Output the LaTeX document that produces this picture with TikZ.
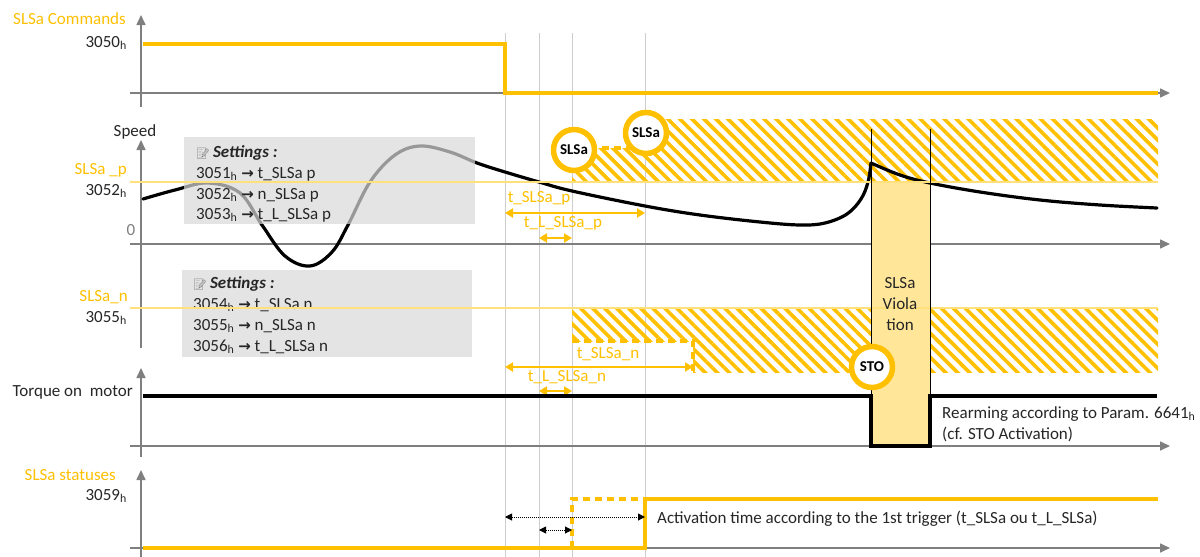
\documentclass[tikz,border=0pt]{standalone}
\usepackage{fontspec}
\setmainfont{Carlito}
\newfontfamily\dejavu{DejaVu Sans}
\newfontfamily\emojifont{Noto Emoji}
\usetikzlibrary{arrows.meta,patterns.meta}
\definecolor{slsa}{HTML}{FFC000}
\definecolor{thrcol}{HTML}{FFE07A}
\definecolor{viol}{HTML}{FFE699}
\definecolor{axisgray}{HTML}{7F7F7F}
\definecolor{txt}{HTML}{262626}
\definecolor{boxgray}{RGB}{217,217,217}
\definecolor{guidegray}{RGB}{205,205,205}
\newcommand\hx{\textsubscript{h}}
\newcommand\setarrow{{\dejavu\bfseries\fontsize{15}{15}\selectfont →}}
\begin{document}
\begin{tikzpicture}[x=1pt,y=-1pt,
  font=\fontsize{17}{21}\selectfont, text=txt,
  axis/.style={draw=axisgray, line width=1.6pt, -{Triangle[length=10pt,width=9pt]}},
  guide/.style={draw=guidegray, line width=1pt},
  sig/.style={draw=slsa, line width=3.3pt},
  sigdash/.style={draw=slsa, line width=3.3pt, dash pattern=on 7pt off 5pt},
  thr/.style={draw=thrcol, line width=1.6pt},
  hatch/.style={pattern={Lines[angle=-45,distance=8.5pt,line width=3.6pt]}, pattern color=slsa},
  dimarrow/.style={draw=slsa, line width=2.4pt, {Triangle[length=8pt,width=9pt]}-{Triangle[length=8pt,width=9pt]}},
  dotarrow/.style={draw=black, line width=1pt, dash pattern=on 1pt off 1pt, {Triangle[length=7pt,width=7pt]}-{Triangle[length=7pt,width=7pt]}},
  dimlab/.style={text=slsa, inner sep=0pt, anchor=mid},
  orlab/.style={text=slsa, inner sep=0pt, anchor=mid east},
  vallab/.style={inner sep=0pt, anchor=mid east},
  plain/.style={inner sep=0pt, anchor=mid west},
  setline/.style={inner sep=0pt, anchor=base west},
  badge/.style={circle, draw=slsa, line width=5.5pt, fill=white, minimum size=41pt, inner sep=0pt, text=black, font=\bfseries\fontsize{15}{15}\selectfont},
  setbox/.style={fill=boxgray, fill opacity=0.7},
  curve/.style={draw=black, line width=3.2pt, line cap=round},
  torque/.style={draw=black, line width=3.8pt}
]
\useasboundingbox (0,0) rectangle (1200,557);

% guide lines
\foreach \gx/\gn in {505/ga,539/gb,572/gc,645/gd}{
  \coordinate (\gn top) at (\gx,33);
  \coordinate (\gn bot) at (\gx,557);
  \draw[guide] (\gn top) -- (\gn bot);
}

% ---------- Commands panel ----------
\coordinate (c0) at (141,107);
\coordinate (c1) at (141,15);
\coordinate (ch0) at (130,93);
\coordinate (ch1) at (1170,93);
\draw[axis] (c0) -- (c1);
\draw[axis] (ch0) -- (ch1);
\node[orlab] (lcmd) at (126,22) {SLSa Commands};
\node[vallab] (v3050) at (127,45) {3050\hx};
\coordinate (cs0) at (143,44);
\coordinate (cs1) at (505,44);
\coordinate (cs2) at (505,93);
\coordinate (cs3) at (1158,93);
\draw[sig] (cs0) -- (cs1) -- (cs2) -- (cs3);

% ---------- Speed panel ----------
\coordinate (s0) at (141,348);
\coordinate (s1) at (141,140);
\coordinate (sh0) at (130,244);
\coordinate (sh1) at (1170,244);
\draw[axis] (s0) -- (s1);
\draw[axis] (sh0) -- (sh1);
\node[inner sep=0pt, anchor=mid] (lspeed) at (135,134) {Speed};
\node[inner sep=0pt, anchor=mid, text=axisgray] (lzero) at (131,233) {0};
\node[orlab] (lslsap) at (127,172) {SLSa \_p};
\node[vallab] (v3052) at (127,193) {3052\hx};

% hatch p
\fill[hatch] (572,148) rectangle (1158,182);
\fill[hatch] (645,119) rectangle (1158,148);

% hatch n
\fill[hatch] (572,308) rectangle (1158,341);
\fill[hatch] (693,341) rectangle (1158,372);

% violation box
\fill[viol] (871,182) rectangle (930,446);

% speed curve
\draw[curve] plot[smooth, tension=0.6] coordinates {(143,199) (175,190) (208,183) (240,193) (262,225) (285,256) (310,266) (332,252) (348,225) (370,182) (395,155) (420,146) (450,152) (477,163) (505,172) (539,182) (572,191) (645,206) (700,215) (760,222) (800,225) (825,223) (847,214) (861,199) (868,182) (871,163)};
\draw[curve] plot[smooth, tension=0.6] coordinates {(871,163) (900,175) (930,183) (980,192) (1040,200) (1100,205) (1157,208)};

% settings box 1
\fill[setbox] (184,137) rectangle (475,224);
\node[setline] (s1a) at (196,157) {{\emojifont\fontsize{11}{11}\selectfont\color{gray}📝}\,\textbf{\textit{Settings :}}};
\node[setline] (s1b) at (196,178) {3051\hx\ \setarrow\ t\_SLSa p};
\node[setline] (s1c) at (196,199) {3052\hx\ \setarrow\ n\_SLSa p};
\node[setline] (s1d) at (196,219) {3053\hx\ \setarrow\ t\_L\_SLSa p};

% settings box 2
\fill[setbox] (182,270) rectangle (472,357);
\node[setline] (s2a) at (193,288) {{\emojifont\fontsize{11}{11}\selectfont\color{gray}📝}\,\textbf{\textit{Settings :}}};
\node[setline] (s2b) at (193,309) {3054\hx\ \setarrow\ t\_SLSa n};
\node[setline] (s2c) at (193,330) {3055\hx\ \setarrow\ n\_SLSa n};
\node[setline] (s2d) at (193,351) {3056\hx\ \setarrow\ t\_L\_SLSa n};

% thresholds
\coordinate (tp0) at (130,182);
\coordinate (tp1) at (1158,182);
\draw[thr] (tp0) -- (tp1);
\coordinate (tn0) at (130,308);
\coordinate (tn1) at (1158,308);
\draw[thr] (tn0) -- (tn1);
\node[orlab] (lslsan) at (128,299) {SLSa\_n};
\node[vallab] (v3055) at (127,320) {3055\hx};

% dashed limits
\coordinate (dp0) at (590,148);
\coordinate (dp1) at (630,148);
\draw[sigdash] (dp0) -- (dp1);
\coordinate (dn0) at (572,341);
\coordinate (dn1) at (693,341);
\coordinate (dn2) at (693,372);
\draw[sigdash] (dn0) -- (dn1) -- (dn2);

% badges
\node[badge] (b1) at (574,150) {SLSa};
\node[badge] (b2) at (646,133) {SLSa};

% dimension arrows p
\coordinate (ap0) at (505,213);
\coordinate (ap1) at (645,213);
\draw[dimarrow] (ap0) -- (ap1);
\node[dimlab] (lap) at (539,200) {t\_SLSa\_p};
\coordinate (alp0) at (539,238);
\coordinate (alp1) at (572,238);
\draw[dimarrow] (alp0) -- (alp1);
\node[dimlab] (lalp) at (563,225) {t\_L\_SLSa\_p};

% dimension arrows n
\coordinate (an0) at (505,367);
\coordinate (an1) at (693,367);
\draw[dimarrow] (an0) -- (an1);
\node[dimlab] (lan) at (608,356) {t\_SLSa\_n};
\coordinate (aln0) at (539,391);
\coordinate (aln1) at (572,391);
\draw[dimarrow] (aln0) -- (aln1);
\node[dimlab] (laln) at (567,379) {t\_L\_SLSa\_n};

% ---------- Torque panel ----------
\coordinate (t0) at (141,457);
\coordinate (t1) at (141,368);
\coordinate (th0) at (130,446);
\coordinate (th1) at (1170,446);
\draw[axis] (t0) -- (t1);
\draw[axis] (th0) -- (th1);
\node[vallab] (ltorque) at (133,394) {Torque on\ \ motor};
\coordinate (tq0) at (143,396);
\coordinate (tq1) at (871,396);
\coordinate (tq2) at (871,446);
\coordinate (tq3) at (930,446);
\coordinate (tq4) at (930,396);
\coordinate (tq5) at (1157,396);
\draw[torque] (tq0) -- (tq1) -- (tq2) -- (tq3) -- (tq4) -- (tq5);
\coordinate (vl0) at (871,129);
\coordinate (vr0) at (930,129);
\draw[black, line width=1pt] (vl0) -- (tq2);
\draw[black, line width=1pt] (vr0) -- (tq3);
\node[inner sep=0pt, align=center, anchor=center] (lviol) at (900,304) {SLSa\\Viola\\tion};
\node[badge] (bsto) at (872,367) {STO};
\node[plain] (lrearm1) at (942,416) {Rearming according to Param. 6641\hx};
\node[plain] (lrearm2) at (942,437) {(cf. STO Activation)};

% ---------- Statuses panel ----------
\coordinate (st0) at (141,557);
\coordinate (st1) at (141,470);
\coordinate (sth0) at (130,548);
\coordinate (sth1) at (1170,548);
\draw[axis] (st0) -- (st1);
\draw[axis] (sth0) -- (sth1);
\node[orlab] (lstat) at (116,478) {SLSa statuses};
\node[vallab] (v3059) at (127,498) {3059\hx};
\coordinate (ss0) at (143,548);
\coordinate (ss1) at (645,548);
\coordinate (ss2) at (645,499);
\coordinate (ss3) at (1158,499);
\draw[sig] (ss0) -- (ss1) -- (ss2) -- (ss3);
\coordinate (sd0) at (572,548);
\coordinate (sd1) at (572,499);
\coordinate (sd2) at (645,499);
\draw[sigdash] (sd0) -- (sd1) -- (sd2);
\coordinate (da0) at (505,517);
\coordinate (da1) at (645,517);
\draw[dotarrow] (da0) -- (da1);
\coordinate (db0) at (539,530);
\coordinate (db1) at (572,530);
\draw[dotarrow] (db0) -- (db1);
\node[plain] (lact) at (657,521) {Activation time according to the 1st trigger (t\_SLSa ou t\_L\_SLSa)};
\end{tikzpicture}
\end{document}
